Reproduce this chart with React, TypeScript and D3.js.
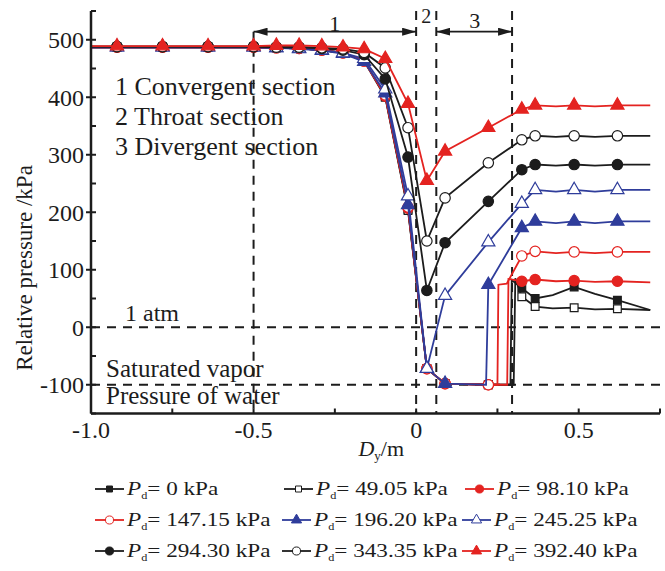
import React from 'react';
import * as d3 from 'd3';

// x positions along the nozzle (m) shared by the convergent part of every curve
const X_CONV = [-1.0, -0.92, -0.78, -0.64, -0.5, -0.43, -0.36, -0.29, -0.225, -0.16, -0.095, -0.025, 0.033];

// x positions where the symbols were plotted
const MARKER_X = [-0.92, -0.78, -0.64, -0.5, -0.43, -0.36, -0.29, -0.225, -0.16, -0.095, -0.025, 0.033, 0.089, 0.222, 0.325, 0.366, 0.486, 0.619];

// relative pressure (kPa) in the convergent section
const convP0 = [487, 487, 487, 487, 487, 486, 485, 482, 477, 464, 402, 205, -72];
const convP49 = [487, 487, 487, 487, 487, 486, 485, 482, 477, 463, 400, 203, -72];
const convP98 = [487, 487, 487, 487, 487, 486, 485, 482, 477, 463, 402, 207, -72];
const convP147 = [487, 487, 487, 487, 487, 486, 485, 482, 477, 463, 404, 209, -72];
const convP196 = [487, 487, 487, 487, 487, 486, 484, 481, 476, 462, 407, 213, -72];
const convP245 = [487, 487, 487, 487, 487, 486, 485, 482, 477, 467, 414, 228, -72];
const convP294 = [488, 488, 488, 488, 488, 487, 487, 485, 482, 474, 432, 296, 64];
const convP343 = [488, 488, 488, 488, 488, 487, 487, 486, 484, 478, 451, 347, 150];
const convP392 = [489, 489, 489, 489, 489, 490, 490, 489, 487, 484, 467, 389, 255];

// divergent section and outlet [x, pressure]
const tailP0: [number, number][] = [[0.089, -98], [0.222, -100], [0.29, -100], [0.294, 82], [0.325, 68], [0.366, 50], [0.42, 56], [0.486, 70], [0.55, 58], [0.619, 47], [0.72, 30]];
const tailP49: [number, number][] = [[0.089, -98], [0.222, -100], [0.3, -100], [0.305, 85], [0.325, 53], [0.366, 36], [0.42, 33], [0.486, 34], [0.55, 31], [0.619, 32], [0.72, 30]];
const tailP98: [number, number][] = [[0.089, -98], [0.222, -100], [0.28, -100], [0.284, 84], [0.325, 80], [0.366, 83], [0.43, 80], [0.486, 81], [0.55, 79], [0.619, 80], [0.72, 78]];
const tailP147: [number, number][] = [[0.089, -98], [0.222, -100], [0.25, -100], [0.253, 74], [0.279, 76], [0.325, 124], [0.366, 132], [0.43, 129], [0.486, 131], [0.55, 129], [0.619, 131], [0.72, 131]];
const tailP196: [number, number][] = [[0.089, -98], [0.215, -100], [0.222, 74], [0.325, 173], [0.366, 184], [0.43, 181], [0.486, 184], [0.55, 181], [0.619, 184], [0.72, 184]];
const tailP245: [number, number][] = [[0.089, 55], [0.222, 148], [0.325, 215], [0.366, 239], [0.43, 236], [0.486, 239], [0.55, 236], [0.619, 239], [0.72, 239]];
const tailP294: [number, number][] = [[0.089, 147], [0.222, 219], [0.325, 274], [0.366, 283], [0.43, 281], [0.486, 283], [0.55, 281], [0.619, 283], [0.72, 283]];
const tailP343: [number, number][] = [[0.089, 225], [0.222, 286], [0.325, 326], [0.366, 333], [0.43, 331], [0.486, 333], [0.55, 331], [0.619, 333], [0.72, 333]];
const tailP392: [number, number][] = [[0.089, 306], [0.222, 347], [0.325, 379], [0.366, 386], [0.43, 384], [0.486, 386], [0.55, 384], [0.619, 386], [0.72, 386]];

const SERIES_LABELS = ['0', '49.05', '98.10', '147.15', '196.20', '245.25', '294.30', '343.35', '392.40'];

// axis ticks
const Y_TICKS = [-100, 0, 100, 200, 300, 400, 500];
const Y_TICK_LABELS = ['-100', '0', '100', '200', '300', '400', '500'];
const X_TICKS = [-1, -0.5, 0, 0.5];
const X_TICK_LABELS = ['-1.0', '-0.5', '0', '0.5'];

// reference lines
const REF_Y = [0, -100];
const SECTION_X = [0, 0.062, 0.295];
const CONV_START = -0.5;
const BRACKET_Y = 514;

const BLACK = '#1c1c1c';
const RED = '#e42320';
const BLUE = '#2f3d9b';
const FONT = '"Liberation Serif", "Times New Roman", serif';

const x = d3.scaleLinear().domain([-1, 0.75]).range([91, 660]);
const y = d3.scaleLinear().domain([-150, 550]).range([413.5, 11]);

const build = (conv: number[], tail: [number, number][]) =>
  [...X_CONV.map((xv, i) => [xv, conv[i]] as [number, number]), ...tail];

const series = [
  { data: build(convP0, tailP0), color: BLACK, shape: d3.symbolSquare, filled: true, size: 60 },
  { data: build(convP49, tailP49), color: BLACK, shape: d3.symbolSquare, filled: false, size: 60 },
  { data: build(convP98, tailP98), color: RED, shape: d3.symbolCircle, filled: true, size: 85 },
  { data: build(convP147, tailP147), color: RED, shape: d3.symbolCircle, filled: false, size: 85 },
  { data: build(convP196, tailP196), color: BLUE, shape: d3.symbolTriangle, filled: true, size: 75 },
  { data: build(convP245, tailP245), color: BLUE, shape: d3.symbolTriangle, filled: false, size: 75 },
  { data: build(convP294, tailP294), color: BLACK, shape: d3.symbolCircle, filled: true, size: 85 },
  { data: build(convP343, tailP343), color: BLACK, shape: d3.symbolCircle, filled: false, size: 85 },
  { data: build(convP392, tailP392), color: RED, shape: d3.symbolTriangle, filled: true, size: 75 },
].map((s, i) => ({ ...s, label: SERIES_LABELS[i] }));

const line = d3
  .line<[number, number]>()
  .x(d => x(d[0]))
  .y(d => y(d[1]));

const isMarker = (xv: number) => MARKER_X.some(m => Math.abs(m - xv) < 1e-6);

// legend flows row by row like the original
const LEGEND_COL_X = [
  [95, 284, 465],
  [95, 282, 462],
  [95, 282, 462],
];
const LEGEND_ROW_Y = [495, 526, 557];

export default function App() {
  const axisBottom = y.range()[0];
  const axisTop = y(550);
  const dash = '9,7';

  return (
    <svg
      width={665}
      height={571}
      style={{ position: 'absolute', left: 0, top: 0, background: '#fff' }}
      fontFamily={FONT}
    >
      <defs>
        <marker
          id="arrow"
          viewBox="0 0 14 8"
          refX={14}
          refY={4}
          markerWidth={14}
          markerHeight={8}
          markerUnits="userSpaceOnUse"
          orient="auto-start-reverse"
        >
          <path d="M0,0 L14,4 L0,8 z" fill={BLACK} />
        </marker>
      </defs>

      {/* reference dashed lines */}
      {REF_Y.map(v => (
        <line key={'h' + v} x1={x(-1)} x2={x(0.75)} y1={y(v)} y2={y(v)} stroke={BLACK} strokeWidth={2} strokeDasharray={dash} />
      ))}
      {SECTION_X.map(v => (
        <line key={'v' + v} x1={x(v)} x2={x(v)} y1={axisTop} y2={axisBottom} stroke={BLACK} strokeWidth={2} strokeDasharray={dash} />
      ))}
      <line x1={x(CONV_START)} x2={x(CONV_START)} y1={y(BRACKET_Y)} y2={axisBottom} stroke={BLACK} strokeWidth={2} strokeDasharray={dash} />

      {/* section brackets */}
      <line x1={x(CONV_START)} x2={x(SECTION_X[0])} y1={y(BRACKET_Y)} y2={y(BRACKET_Y)} stroke={BLACK} strokeWidth={1.8} markerStart="url(#arrow)" markerEnd="url(#arrow)" />
      <line x1={x(SECTION_X[1])} x2={x(SECTION_X[2])} y1={y(BRACKET_Y)} y2={y(BRACKET_Y)} stroke={BLACK} strokeWidth={1.8} markerStart="url(#arrow)" markerEnd="url(#arrow)" />
      <text x={x(-0.25)} y={y(BRACKET_Y) - 1} fontSize={22} textAnchor="middle" fill={BLACK}>1</text>
      <text x={x(0.031)} y={y(BRACKET_Y) - 9} fontSize={20} textAnchor="middle" fill={BLACK}>2</text>
      <text x={x(0.18)} y={y(BRACKET_Y) - 4} fontSize={22} textAnchor="middle" fill={BLACK}>3</text>

      {/* curves */}
      {series.map((s, i) => (
        <g key={i}>
          <path d={line(s.data) || ''} fill="none" stroke={s.color} strokeWidth={1.8} />
          {s.data
            .filter(d => isMarker(d[0]))
            .map((d, j) => (
              <path
                key={j}
                transform={`translate(${x(d[0])},${y(d[1])})`}
                d={d3.symbol().type(s.shape).size(s.size)() || ''}
                fill={s.filled ? s.color : '#fff'}
                stroke={s.color}
                strokeWidth={1.2}
              />
            ))}
        </g>
      ))}

      {/* axes */}
      <line x1={x(-1)} x2={x(-1)} y1={axisTop} y2={axisBottom} stroke={BLACK} strokeWidth={2.5} />
      <line x1={x(-1)} x2={x(0.75)} y1={axisBottom} y2={axisBottom} stroke={BLACK} strokeWidth={2.5} />
      {y.ticks(14).map(v => (
        <line key={'ym' + v} x1={x(-1)} x2={x(-1) + 5} y1={y(v)} y2={y(v)} stroke={BLACK} strokeWidth={2} />
      ))}
      {Y_TICKS.map((v, i) => (
        <g key={'y' + v}>
          <line x1={x(-1) - 5} x2={x(-1)} y1={y(v)} y2={y(v)} stroke={BLACK} strokeWidth={2} />
          <text x={x(-1) - 7} y={y(v) + 8.5} fontSize={24} textAnchor="end" fill={BLACK}>
            {Y_TICK_LABELS[i]}
          </text>
        </g>
      ))}
      {d3.range(-1, 0.76, 0.25).map(v => (
        <line key={'xm' + v} x1={x(v)} x2={x(v)} y1={axisBottom} y2={axisBottom - 5} stroke={BLACK} strokeWidth={2} />
      ))}
      {X_TICKS.map((v, i) => (
        <text key={'x' + v} x={x(v)} y={438} fontSize={24} textAnchor="middle" fill={BLACK}>
          {X_TICK_LABELS[i]}
        </text>
      ))}

      {/* axis titles */}
      <text x={404} y={456} fontSize={22} textAnchor="end" fill={BLACK}>
        <tspan fontStyle="italic">D</tspan>
        <tspan fontSize={13} dy={4}>y</tspan>
        <tspan dy={-4}>/m</tspan>
      </text>
      <text transform="translate(32,268) rotate(-90)" fontSize={23} textAnchor="middle" fill={BLACK}>
        Relative pressure /kPa
      </text>

      {/* annotations */}
      <text x={115} y={95} fontSize={26} fill={BLACK}>1 Convergent section</text>
      <text x={115} y={125} fontSize={26} fill={BLACK}>2 Throat section</text>
      <text x={115} y={155} fontSize={26} fill={BLACK}>3 Divergent section</text>
      <text x={125} y={y(0) - 6} fontSize={24} fill={BLACK}>1 atm</text>
      <text x={106} y={y(-100) - 8} fontSize={25} fill={BLACK}>Saturated vapor</text>
      <text x={106} y={y(-100) + 19} fontSize={25} fill={BLACK}>Pressure of water</text>

      {/* legend */}
      {series.map((s, i) => {
        const row = Math.floor(i / 3);
        const lx = LEGEND_COL_X[row][i % 3];
        const ly = LEGEND_ROW_Y[row];
        return (
          <g key={'lg' + i}>
            <line x1={lx} x2={lx + 29} y1={ly - 6} y2={ly - 6} stroke={s.color} strokeWidth={1.8} />
            <path
              transform={`translate(${lx + 14.5},${ly - 6})`}
              d={d3.symbol().type(s.shape).size(s.size * 0.6)() || ''}
              fill={s.filled ? s.color : '#fff'}
              stroke={s.color}
              strokeWidth={1}
            />
            <text transform={`translate(${lx + 32},${ly}) scale(1.22,1)`} fontSize={19} fill={BLACK}>
              <tspan fontStyle="italic">P</tspan>
              <tspan fontSize={10} dy={4}>d</tspan>
              <tspan dy={-4}>{`= ${s.label} kPa`}</tspan>
            </text>
          </g>
        );
      })}
    </svg>
  );
}
